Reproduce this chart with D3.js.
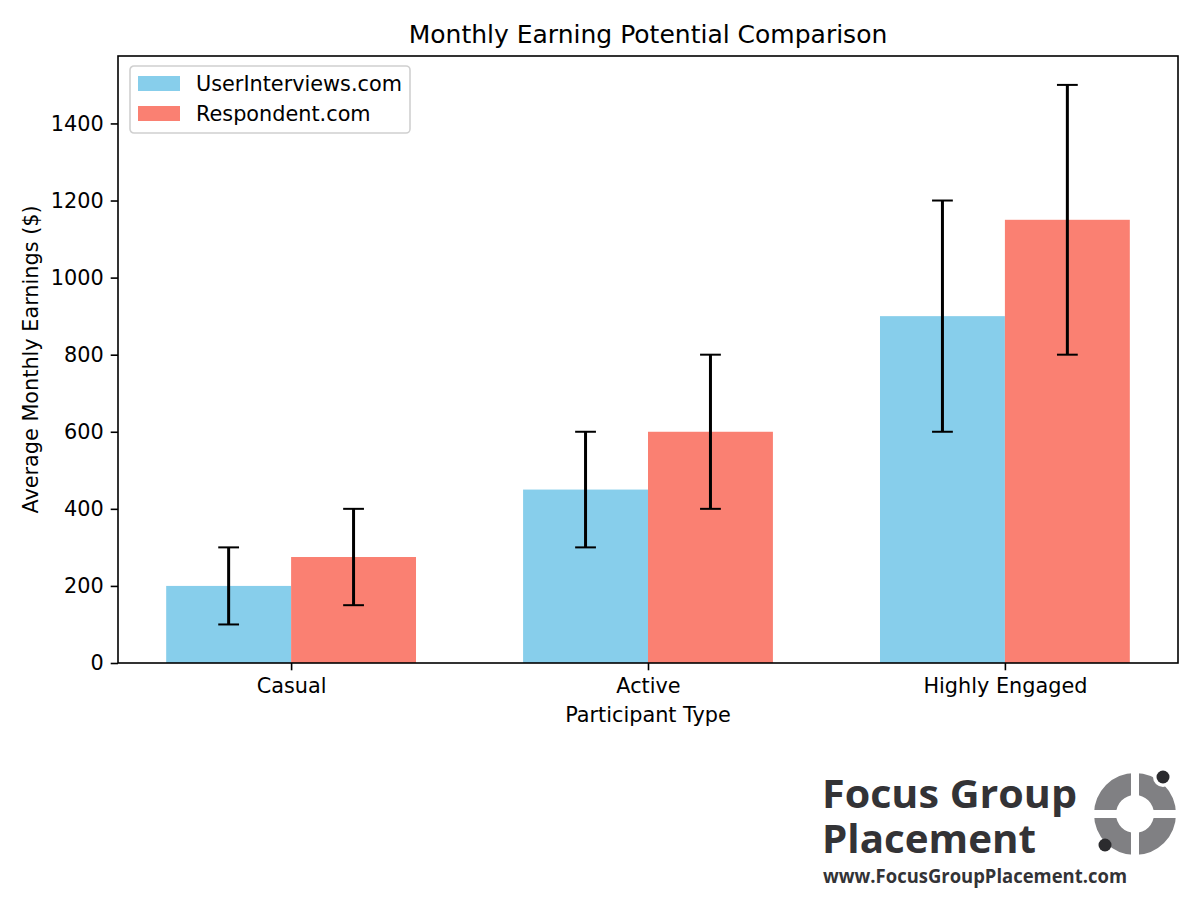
<!DOCTYPE html>
<html>
  <head>
      <title>Monthly Earning Potential Comparison</title>
      <script src="https://cdn.jsdelivr.net/npm/d3@7"></script>
      <style>
        body { margin: 0; background: #fff; }
      </style>
  </head>
  <body>
        <div></div>
        <script>
           var categories = ["Casual", "Active", "Highly Engaged"]
           var seriesNames = ["UserInterviews.com", "Respondent.com"]
           var userInterviews = [200, 450, 900]
           var userInterviewsErr = [100, 150, 300]
           var respondent = [275, 600, 1150]
           var respondentErr = [125, 200, 350]
           var yTicks = [0, 200, 400, 600, 800, 1000, 1200, 1400]
           var colors = ["#87ceeb", "#fa8072"]

           var W = 1200, H = 911
           var plot = {left: 118, right: 1178, top: 56, bottom: 663}
           var barW = 0.35
           var fs = 20.8

           var svg = d3.select("div").append("svg").attr("width", W).attr("height", H)
             .style("font-family", "'DejaVu Sans', sans-serif")

           var x = d3.scaleLinear().domain([-0.485, 2.485]).range([plot.left, plot.right])
           var y = d3.scaleLinear().domain([0, 1575]).range([plot.bottom, plot.top])

           var series = [
             {name: seriesNames[0], vals: userInterviews, errs: userInterviewsErr, off: -barW / 2, color: colors[0]},
             {name: seriesNames[1], vals: respondent, errs: respondentErr, off: barW / 2, color: colors[1]}
           ]

           // bars
           series.forEach(s => {
             svg.append("g").selectAll("rect").data(s.vals).enter().append("rect")
               .attr("x", (d, i) => x(i + s.off - barW / 2))
               .attr("width", x(barW) - x(0))
               .attr("y", d => y(d))
               .attr("height", d => y(0) - y(d))
               .attr("fill", s.color)
           })

           // error bars
           series.forEach(s => {
             var g = svg.append("g").attr("stroke", "#000")
             var pts = s.vals.map((v, i) => ({cx: x(i + s.off), lo: y(v - s.errs[i]), hi: y(v + s.errs[i])}))
             g.selectAll("line.v").data(pts).enter().append("line").attr("stroke-width", 3)
               .attr("x1", d => d.cx).attr("x2", d => d.cx).attr("y1", d => d.lo).attr("y2", d => d.hi)
             g.selectAll("line.lo").data(pts).enter().append("line").attr("stroke-width", 2)
               .attr("x1", d => d.cx - 10.4).attr("x2", d => d.cx + 10.4).attr("y1", d => d.lo).attr("y2", d => d.lo)
             g.selectAll("line.hi").data(pts).enter().append("line").attr("stroke-width", 2)
               .attr("x1", d => d.cx - 10.4).attr("x2", d => d.cx + 10.4).attr("y1", d => d.hi).attr("y2", d => d.hi)
           })

           // axes
           var yAxis = svg.append("g").attr("transform", "translate(" + plot.left + ",0)")
             .call(d3.axisLeft(y).tickValues(yTicks).tickFormat(d3.format("d")).tickSize(7.3).tickPadding(7))
           var xAxis = svg.append("g").attr("transform", "translate(0," + plot.bottom + ")")
             .call(d3.axisBottom(x).tickValues([0, 1, 2]).tickFormat(i => categories[i]).tickSize(7.3).tickPadding(7))
           ;[yAxis, xAxis].forEach(a => {
             a.attr("font-family", "DejaVu Sans").attr("font-size", fs)
             a.select(".domain").remove()
             a.selectAll("line").attr("stroke", "#000").attr("stroke-width", 1.6)
             a.selectAll("text").attr("fill", "#000")
           })
           xAxis.selectAll("text").attr("dy", "0.75em")

           svg.append("rect").attr("x", plot.left).attr("y", plot.top)
             .attr("width", plot.right - plot.left).attr("height", plot.bottom - plot.top)
             .attr("fill", "none").attr("stroke", "#000").attr("stroke-width", 1.6)

           svg.append("text").attr("x", (plot.left + plot.right) / 2).attr("y", 43)
             .attr("text-anchor", "middle").attr("font-size", 25).text("Monthly Earning Potential Comparison")
           svg.append("text").attr("x", (plot.left + plot.right) / 2).attr("y", 722)
             .attr("text-anchor", "middle").attr("font-size", fs).text("Participant Type")
           svg.append("text").attr("transform", "translate(38," + (plot.top + plot.bottom) / 2 + ") rotate(-90)")
             .attr("text-anchor", "middle").attr("font-size", fs).text("Average Monthly Earnings ($)")

           // legend
           var leg = svg.append("g").attr("transform", "translate(130,66)")
           leg.append("rect").attr("width", 280).attr("height", 67).attr("rx", 4)
             .attr("fill", "#fff").attr("fill-opacity", 0.8).attr("stroke", "#d0d0d0").attr("stroke-width", 1.6)
           series.forEach((s, i) => {
             leg.append("rect").attr("x", 8).attr("y", 10 + i * 30).attr("width", 42).attr("height", 15).attr("fill", s.color)
             leg.append("text").attr("x", 66).attr("y", 25 + i * 30).attr("font-size", fs).text(s.name)
           })

           // logo
           var logo = svg.append("g").style("font-family", "'Open Sans', sans-serif").attr("font-weight", 700).attr("fill", "#333336")
           logo.append("text").attr("x", 822).attr("y", 808).attr("font-size", 39)
             .attr("textLength", 255).attr("lengthAdjust", "spacingAndGlyphs").text("Focus Group")
           logo.append("text").attr("x", 822).attr("y", 853).attr("font-size", 39)
             .attr("textLength", 214).attr("lengthAdjust", "spacingAndGlyphs").text("Placement")
           logo.append("text").attr("x", 823).attr("y", 883).attr("font-size", 20)
             .attr("textLength", 304).attr("lengthAdjust", "spacingAndGlyphs").text("www.FocusGroupPlacement.com")
           var ring = logo.append("g").attr("transform", "translate(1135,814)")
           ring.append("path")
             .attr("d", d3.arc().innerRadius(19).outerRadius(41)({startAngle: 0, endAngle: 2 * Math.PI}))
             .attr("fill", "#808083")
           ring.append("rect").attr("x", -4).attr("y", -45).attr("width", 8).attr("height", 90).attr("fill", "#fff")
           ring.append("rect").attr("x", -45).attr("y", -4).attr("width", 90).attr("height", 8).attr("fill", "#fff")
           ring.append("circle").attr("cx", 28).attr("cy", -37).attr("r", 10).attr("fill", "#fff")
           ring.append("circle").attr("cx", 28).attr("cy", -37).attr("r", 6.5).attr("fill", "#2b2b2e")
           ring.append("circle").attr("cx", -30).attr("cy", 31).attr("r", 6.5).attr("fill", "#2b2b2e")
        </script>
  </body>
</html>
